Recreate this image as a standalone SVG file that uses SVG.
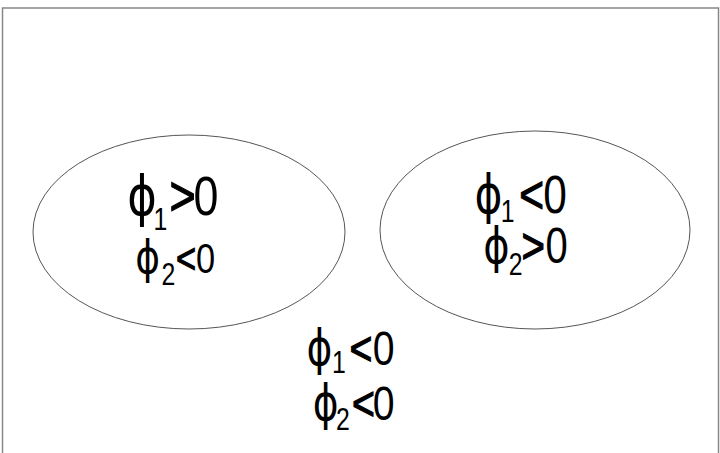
<svg xmlns="http://www.w3.org/2000/svg" width="720" height="453" viewBox="0 0 720 453">
<style>
.frame{fill:#fff;stroke:#888;stroke-width:1.5}
.reg{fill:none;stroke:#555;stroke-width:1}
.t{font-family:"Liberation Sans",Arial,sans-serif;fill:#000}
.p{font-family:"DejaVu Sans",sans-serif}
.s{font-size:31px}
.r{stroke:#000;stroke-width:1.2}
</style>
<rect class="frame" x="2.5" y="8" width="716" height="460"/>
<g id="region-left">
<ellipse class="reg" cx="189" cy="232" rx="156" ry="97"/>
<text class="t" font-size="56" transform="scale(0.8,1)" y="215"><tspan class="p" x="159">ϕ</tspan><tspan class="s" x="192" dy="15">1</tspan><tspan class="r" x="212" dy="-15">&gt;</tspan><tspan x="242">0</tspan></text>
<text class="t" font-size="43" transform="scale(0.8,1)" y="273"><tspan class="p" x="169" style="font-size:47px">ϕ</tspan><tspan class="s" x="202" dy="12">2</tspan><tspan class="r" x="220" dy="-12">&lt;</tspan><tspan x="245">0</tspan></text>
</g>
<g id="region-right">
<ellipse class="reg" cx="535" cy="230" rx="155" ry="99"/>
<text class="t" font-size="53" transform="scale(0.8,1)" y="213"><tspan class="p" x="593">ϕ</tspan><tspan class="s" x="626" dy="9">1</tspan><tspan class="r" x="649" dy="-9">&lt;</tspan><tspan x="679">0</tspan></text>
<text class="t" font-size="50" transform="scale(0.8,1)" y="263"><tspan class="p" x="604">ϕ</tspan><tspan class="s" x="636" dy="12">2</tspan><tspan class="r" x="652" dy="-12">&gt;</tspan><tspan x="682">0</tspan></text>
</g>
<g id="region-outside">
<text class="t" font-size="49" transform="scale(0.8,1)" y="365"><tspan class="p" x="383">ϕ</tspan><tspan class="s" x="415" dy="8">1</tspan><tspan class="r" x="437" dy="-8">&lt;</tspan><tspan x="466">0</tspan></text>
<text class="t" font-size="49" transform="scale(0.8,1)" y="420"><tspan class="p" x="391">ϕ</tspan><tspan class="s" x="420" dy="10">2</tspan><tspan class="r" x="440" dy="-10">&lt;</tspan><tspan x="466">0</tspan></text>
</g>
<g id="connectors"></g>
</svg>
